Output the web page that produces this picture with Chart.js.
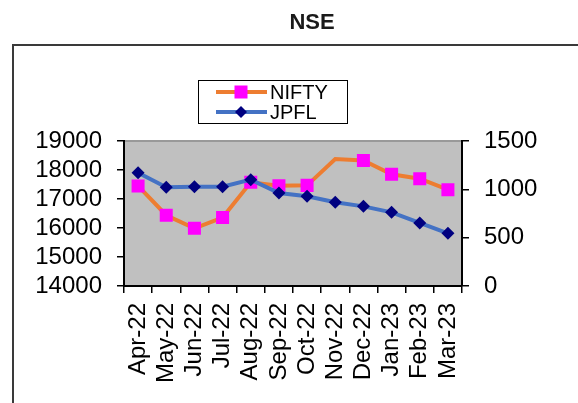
<!DOCTYPE html>
<html><head><meta charset="utf-8">
<script src="https://cdn.jsdelivr.net/npm/chart.js@4/dist/chart.umd.min.js"></script>
<style>html,body{margin:0;padding:0;background:#fff;} #wrap{width:578px;height:403px;position:relative;}</style>
</head><body><div id="wrap"><canvas id="c" width="578" height="403"></canvas></div>
<script>
const categories = ['Apr-22','May-22','Jun-22','Jul-22','Aug-22','Sep-22','Oct-22','Nov-22','Dec-22','Jan-23','Feb-23','Mar-23'];
const niftyValues = [17450, 16440, 15990, 16360, 17575, 17460, 17470, 18380, 18330, 17850, 17700, 17320];
const jpflValues = [1172, 1021, 1027, 1027, 1100, 962, 928, 866, 824, 762, 652, 545];
const niftyMarkerShown = [1,1,1,1,1,1,1,0,1,1,1,1];
const leftTicks = [14000, 15000, 16000, 17000, 18000, 19000];
const rightTicks = [0, 500, 1000, 1500];
const titleText = 'NSE';

const FONT = "'Liberation Sans', Arial, sans-serif";
const NIFTY_LINE = '#ED7D31', NIFTY_MARK = '#FF00FF';
const JPFL_LINE = '#4472C4', JPFL_MARK = '#000080';

const decor = {
  id: 'decor',
  beforeDraw(chart) {
    const {ctx, chartArea: a} = chart;
    ctx.save();
    ctx.fillStyle = '#fff';
    ctx.fillRect(0, 0, chart.width, chart.height);
    ctx.strokeStyle = '#3a3a3a';
    ctx.lineWidth = 2;
    ctx.strokeRect(13, 45, chart.width + 50, chart.height + 50);
    ctx.fillStyle = '#C0C0C0';
    ctx.fillRect(a.left, a.top, a.right - a.left, a.bottom - a.top);
    ctx.strokeStyle = '#999';
    ctx.lineWidth = 2;
    ctx.beginPath(); ctx.moveTo(a.left, a.top); ctx.lineTo(a.right, a.top); ctx.stroke();
    ctx.fillStyle = '#1a1a1a';
    ctx.font = 'bold 22px ' + FONT;
    ctx.textAlign = 'center';
    ctx.textBaseline = 'middle';
    ctx.fillText(titleText, 312, 23);
    ctx.restore();
  },
  afterDraw(chart) {
    const ctx = chart.ctx;
    ctx.save();
    ctx.fillStyle = '#fff';
    ctx.fillRect(198, 80, 149, 43);
    ctx.strokeStyle = '#000';
    ctx.lineWidth = 1;
    ctx.strokeRect(198.5, 80.5, 149, 43);
    const items = chart.data.datasets.map(d => d).sort((p, q) => p.legendIndex - q.legendIndex);
    items.forEach((d, i) => {
      const y = 92 + i * 20;
      ctx.strokeStyle = d.borderColor;
      ctx.lineWidth = 4;
      ctx.beginPath(); ctx.moveTo(216, y); ctx.lineTo(267, y); ctx.stroke();
      ctx.fillStyle = d.pointBackgroundColor;
      if (d.pointStyle === 'rect') {
        ctx.fillRect(241 - 6.5, y - 6.5, 13, 13);
      } else {
        ctx.beginPath();
        ctx.moveTo(241 - 6, y); ctx.lineTo(241, y - 6); ctx.lineTo(241 + 6, y); ctx.lineTo(241, y + 6);
        ctx.closePath(); ctx.fill();
      }
      ctx.fillStyle = '#000';
      ctx.font = '20px ' + FONT;
      ctx.textAlign = 'left';
      ctx.textBaseline = 'middle';
      ctx.fillText(d.label, 270, y + 1);
    });
    ctx.restore();
  }
};

new Chart(document.getElementById('c'), {
  type: 'line',
  data: {
    labels: categories,
    datasets: [
      {
        label: 'NIFTY', legendIndex: 0, order: 2,
        data: niftyValues, yAxisID: 'y',
        borderColor: NIFTY_LINE, borderWidth: 4, tension: 0,
        pointStyle: 'rect',
        pointRadius: niftyMarkerShown.map(s => s ? 9.2 : 0),
        pointHoverRadius: niftyMarkerShown.map(s => s ? 9.2 : 0),
        pointBackgroundColor: NIFTY_MARK, pointBorderColor: NIFTY_MARK, pointBorderWidth: 0
      },
      {
        label: 'JPFL', legendIndex: 1, order: 1,
        data: jpflValues, yAxisID: 'y2',
        borderColor: JPFL_LINE, borderWidth: 4, tension: 0,
        pointStyle: 'rectRot', pointRadius: 6.5, pointHoverRadius: 6.5,
        pointBackgroundColor: JPFL_MARK, pointBorderColor: JPFL_MARK, pointBorderWidth: 0
      }
    ]
  },
  options: {
    responsive: false,
    animation: false,
    devicePixelRatio: 1,
    layout: { padding: { top: 141, left: 0, right: 0, bottom: 0 } },
    plugins: { legend: { display: false }, title: { display: false }, tooltip: { enabled: false } },
    scales: {
      x: {
        type: 'category',
        offset: true,
        grid: { offset: true, drawOnChartArea: false, drawTicks: true, tickLength: 7, color: '#000', lineWidth: 1.5 },
        border: { display: true, color: '#000', width: 2 },
        ticks: { color: '#000', font: { family: FONT, size: 24 }, maxRotation: 90, minRotation: 90, padding: 10, autoSkip: false },
        afterFit(s) { s.height = 117; }
      },
      y: {
        position: 'left',
        min: leftTicks[0], max: leftTicks[leftTicks.length - 1],
        afterBuildTicks(s) { s.ticks = leftTicks.map(v => ({ value: v })); },
        grid: { drawOnChartArea: false, drawTicks: true, tickLength: 7, color: '#000', lineWidth: 1.5 },
        border: { display: true, color: '#000', width: 2 },
        ticks: { color: '#000', font: { family: FONT, size: 24 }, padding: 15, autoSkip: false, callback: v => String(v) },
        afterFit(s) { s.width = 124; }
      },
      y2: {
        position: 'right',
        min: rightTicks[0], max: rightTicks[rightTicks.length - 1],
        afterBuildTicks(s) { s.ticks = rightTicks.map(v => ({ value: v })); },
        grid: { drawOnChartArea: false, drawTicks: true, tickLength: 7, color: '#000', lineWidth: 1.5 },
        border: { display: true, color: '#000', width: 2 },
        ticks: { color: '#000', font: { family: FONT, size: 24 }, padding: 15, autoSkip: false, callback: v => String(v) },
        afterFit(s) { s.width = 116; }
      }
    }
  },
  plugins: [decor]
});
</script>
</body></html>
